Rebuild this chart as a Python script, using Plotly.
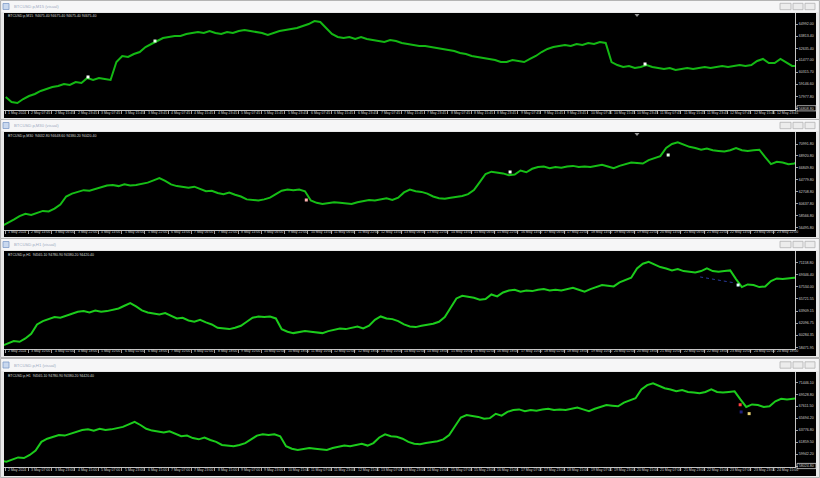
import pandas as pd
import plotly.graph_objects as go

W, H = 820, 478

# ---------------- data ----------------
# M15 chart (top window): closes sampled every 2 hours
m15_start = "2024-05-02 00:00"
m15_close = [
    57900, 57420, 57320, 57710, 58000, 58200, 58490, 58680, 58880, 58970,
    59170, 59070, 59360, 59260, 59750, 59560, 59750, 59650, 59560, 61300,
    61890, 61790, 62080, 62270, 62760, 63050, 63340, 63630, 63730, 63830,
    63830, 64020, 64120, 64220, 64120, 64310, 64120, 64020, 64220, 64120,
    64310, 64410, 64310, 64220, 64120, 63920, 64120, 64310, 64410, 64510,
    64600, 64800, 64990, 65280, 65190, 64600, 64020, 63730, 63630, 63730,
    63540, 63730, 63540, 63440, 63340, 63250, 63440, 63340, 63150, 63050,
    62950, 62860, 62860, 62760, 62660, 62570, 62470, 62370, 62180, 62080,
    61890, 61790, 61690, 61600, 61500, 61300, 61300, 61500, 61400, 61300,
    61600, 61890, 62270, 62570, 62760, 62860, 62950, 62860, 63050, 62950,
    63150, 63050, 63250, 63150, 61300, 61010, 60820, 60920, 60720, 60820,
    61010, 60820, 60720, 60620, 60720, 60530, 60620, 60720, 60620, 60720,
    60820, 60720, 60820, 60920, 60820, 60920, 61010, 60920, 61010, 61400,
    61600, 61210, 61210, 61600, 61300, 60920, 60920,
]

# M30 / H1 windows: closes sampled every 4 hours
h_start = "2024-05-01 20:00"
h_close = [
    56800, 57300, 57900, 58500, 58900, 58700, 59100, 59400, 59300, 59800,
    60500, 61900, 62400, 62700, 63000, 62900, 63200, 63600, 63800, 63900,
    63700, 64000, 63800, 63900, 64100, 64300, 64700, 65100, 64600, 64000,
    63700, 63500, 63400, 63600, 63200, 62800, 62900, 62500, 62300, 62600,
    62200, 61900, 61400, 61300, 61200, 61400, 61700, 62300, 62900, 63100,
    63000, 63100, 62800, 61200, 60800, 60600, 60700, 60900, 60800, 60700,
    60600, 60900, 61100, 61300, 61200, 61400, 61600, 61300, 61700, 62600,
    63100, 62800, 62700, 62400, 61900, 61600, 61500, 61700, 61800, 62000,
    62300, 63000, 64400, 65800, 66200, 66100, 65900, 65600, 65700, 66400,
    66100, 66700, 67000, 67100, 66800, 67000, 66900, 67100, 67200, 67000,
    67100, 67000, 67200, 67400, 67100, 66800, 67200, 67500, 67800, 67700,
    67600, 68200, 68500, 68900, 70300, 71000, 71300, 70900, 70500, 70300,
    70000, 70200, 69900, 69800, 69700, 69900, 70300, 69900, 69800, 69900,
    70000, 68700, 67500, 67900, 67800, 67500, 67600, 68400, 68800, 68700,
    68800, 68900, 68800, 68900,
]

p1_xlabels = ["1 May 2024", "2 May 07:45", "2 May 15:45", "2 May 23:45", "3 May 07:45", "3 May 15:45",
              "3 May 23:45", "4 May 07:45", "4 May 15:45", "4 May 23:45", "5 May 07:45", "5 May 15:45",
              "5 May 23:45", "6 May 07:45", "6 May 15:45", "6 May 23:45", "7 May 07:45", "7 May 15:45",
              "7 May 23:45", "8 May 07:45", "8 May 15:45", "8 May 23:45", "9 May 07:45", "9 May 15:45",
              "9 May 23:45", "10 May 07:45", "10 May 15:45", "10 May 23:45", "11 May 07:45", "11 May 15:45",
              "11 May 23:45", "12 May 07:45", "12 May 15:45", "12 May 23:45", "13 May 07:45"]
p2_xlabels = ["1 May 2024", "2 May 14:00", "3 May 06:00", "3 May 22:00", "4 May 14:00", "5 May 06:00",
              "5 May 22:00", "6 May 14:00", "7 May 06:00", "7 May 22:00", "8 May 14:00", "9 May 06:00",
              "9 May 22:00", "10 May 14:00", "11 May 06:00", "11 May 22:00", "12 May 14:00", "13 May 06:00",
              "13 May 22:00", "14 May 14:00", "15 May 06:00", "15 May 22:00", "16 May 14:00", "17 May 06:00",
              "17 May 22:00", "18 May 14:00", "19 May 06:00", "19 May 22:00", "20 May 14:00", "21 May 06:00",
              "21 May 22:00", "22 May 14:00", "23 May 06:00", "23 May 22:00", "24 May 14:00"]
p3_xlabels = ["2 May 2024", "3 May 10:00", "4 May 02:00", "4 May 18:00", "5 May 10:00", "6 May 02:00",
              "6 May 18:00", "7 May 10:00", "8 May 02:00", "8 May 18:00", "9 May 10:00", "10 May 02:00",
              "10 May 18:00", "11 May 10:00", "12 May 02:00", "12 May 18:00", "13 May 10:00", "14 May 02:00",
              "14 May 18:00", "15 May 10:00", "16 May 02:00", "16 May 18:00", "17 May 10:00", "18 May 02:00",
              "18 May 18:00", "19 May 10:00", "20 May 02:00", "20 May 18:00", "21 May 10:00", "22 May 02:00",
              "22 May 18:00", "23 May 10:00", "24 May 02:00", "24 May 18:00", "25 May 10:00"]
p4_xlabels = ["2 May 2024", "3 May 07:00", "3 May 23:00", "4 May 15:00", "5 May 07:00", "5 May 23:00",
              "6 May 15:00", "7 May 07:00", "7 May 23:00", "8 May 15:00", "9 May 07:00", "9 May 23:00",
              "10 May 15:00", "11 May 07:00", "11 May 23:00", "12 May 15:00", "13 May 07:00", "13 May 23:00",
              "14 May 15:00", "15 May 07:00", "15 May 23:00", "16 May 15:00", "17 May 07:00", "17 May 23:00",
              "18 May 15:00", "19 May 07:00", "19 May 23:00", "20 May 15:00", "21 May 07:00", "21 May 23:00",
              "22 May 15:00", "23 May 07:00", "23 May 23:00", "24 May 15:00", "25 May 07:00"]
first_label_time = ["2024-05-01 23:45", "2024-05-01 22:00", "2024-05-02 18:00", "2024-05-02 15:00"]
label_step_hours = [8, 16, 16, 16]

p1_yticks = [64992.00, 63813.40, 62635.40, 61477.00, 60315.70, 59146.60, 57977.80, 56808.80]
p2_yticks = [70991.80, 68920.80, 66849.80, 64779.80, 62708.80, 60637.80, 58566.80, 56495.80]
p3_yticks = [71158.80, 69346.40, 67534.00, 65721.55, 63909.15, 62096.75, 60284.35, 58471.95]
p4_yticks = [71446.10, 69528.80, 67611.50, 65694.20, 63776.80, 61859.50, 59942.20, 58024.80]

window_titles = ["BTCUSD.p,M15 (visual)", "BTCUSD.p,M30 (visual)", "BTCUSD.p,H1 (visual)", "BTCUSD.p,H1 (visual)"]
info_lines = ["BTCUSD.p,M15  94675.40 94675.40 94675.40 94675.40",
              "BTCUSD.p,M30  94632.80 94648.60 94380.20 94420.40",
              "BTCUSD.p,H1  94565.10 94780.90 94380.20 94420.40",
              "BTCUSD.p,H1  94565.10 94780.90 94380.20 94420.40"]

# trade markers shown by the visual tester
p1_mark_t = ["2024-05-03 04:15", "2024-05-04 03:15", "2024-05-11 03:30"]
p1_mark_y = [59850, 63340, 61110]
p2_mark_t = ["2024-05-10 12:54", "2024-05-16 08:50", "2024-05-20 21:24"]
p2_mark_y = [61300, 66150, 69090]
p3_mark_t = ["2024-05-23 17:25"]
p3_mark_y = [67820]
p3_trade_t = ["2024-05-22 15:20", "2024-05-23 15:20"]
p3_trade_y = [69020, 68120]
p4_mark_t = ["2024-05-23 15:50", "2024-05-23 16:30", "2024-05-23 22:00"]
p4_mark_y = [67845, 66690, 66420]

# ---------------- layout geometry (pixels) ----------------
geo = [
    dict(title=(1, 12), black=(13, 118), sep=110, lab=112.8, ylab=(24, 108.3), box=True, shift=True),
    dict(title=(120, 131), black=(132, 237), sep=229.5, lab=232.0, ylab=(144, 227.7), box=False, shift=True),
    dict(title=(239, 250), black=(251, 356), sep=348.5, lab=351.0, ylab=(262.7, 347.3), box=False, shift=False),
    dict(title=(359, 371), black=(372, 476), sep=467, lab=470.2, ylab=(382.3, 466), box=True, shift=False),
]
PX_PER_LABEL = 23.3
PLOT_L, PLOT_R, LAB0 = 4, 795, 5
LINE_COLORS = ["#14b814", "#16be16", "#1ccc1c", "#1ccc1c"]
TXT = "#cfcfcf"
FONT = "Liberation Sans, Arial, sans-serif"

m15_t = pd.date_range(m15_start, periods=len(m15_close), freq="2h")
h_t = pd.date_range(h_start, periods=len(h_close), freq="4h")

series = [(m15_t, m15_close), (h_t, h_close), (h_t, h_close), (h_t, h_close)]
xlabels = [p1_xlabels, p2_xlabels, p3_xlabels, p4_xlabels]
yticks = [p1_yticks, p2_yticks, p3_yticks, p4_yticks]
marks = [
    [(p1_mark_t, p1_mark_y, ["#ffffff", "#e8ffe8", "#ffffff"])],
    [(p2_mark_t, p2_mark_y, ["#ffb0b0", "#ffffff", "#e8ffe8"])],
    [(p3_mark_t, p3_mark_y, ["#e0ffff"])],
    [(p4_mark_t, p4_mark_y, ["#ff4040", "#20207a", "#e8d070"])],
]


def py(v):
    return 1 - v / H


def rect(x0, y0, x1, y1, fill, line=None, lw=1, layer="below"):
    return dict(type="rect", xref="paper", yref="paper", x0=x0 / W, x1=x1 / W, y0=py(y1), y1=py(y0),
                fillcolor=fill, line=dict(color=line if line else fill, width=lw if line else 0), layer=layer)


fig = go.Figure()
shapes, annos = [], []
lay = {}

for i, g in enumerate(geo):
    n = "" if i == 0 else str(i + 1)
    xa, ya = "xaxis" + n, "yaxis" + n
    xr, yr = "x" + n, "y" + n

    t0 = pd.Timestamp(first_label_time[i])
    hpp = label_step_hours[i] / PX_PER_LABEL
    xmin = t0 - pd.Timedelta(hours=(LAB0 - PLOT_L) * hpp)
    xmax = t0 + pd.Timedelta(hours=(PLOT_R - LAB0) * hpp)
    tick_pos = [t0 + pd.Timedelta(hours=k * label_step_hours[i]) for k in range(len(xlabels[i]))]

    yt = yticks[i]
    top_l, bot_l = g["ylab"]
    s = (yt[0] - yt[-1]) / (bot_l - top_l)
    ymax = yt[0] + (top_l - g["black"][0]) * s
    ymin = yt[-1] - (g["sep"] - bot_l) * s

    # window chrome
    t_top, t_bot = g["title"]
    b_top, b_bot = g["black"]
    shapes.append(rect(0.5, t_top - 0.5, 819.5, b_bot + 1.5, "#e9e9e9", "#b4b4b4", 1))
    shapes.append(rect(1.5, t_top, 818.5, t_bot, "#f6f6f7"))
    shapes.append(rect(4, b_top, 816, b_bot, "#000000"))
    tc = (t_top + t_bot) / 2
    shapes.append(rect(3, tc - 3, 9, tc + 3, "#c9d8ee", "#7f9cc8", 0.8))
    for bx0, bx1 in [(780, 791), (793, 803), (805, 815)]:
        shapes.append(rect(bx0, tc - 3.2, bx1, tc + 3.2, "#ececec", "#b3b3b3", 0.8))
    if g["shift"]:
        cx = 637 / W
        shapes.append(dict(type="path", xref="paper", yref="paper",
                           path=f"M {cx - 2.5 / W} {py(b_top + 1)} L {cx + 2.5 / W} {py(b_top + 1)} L {cx} {py(b_top + 4)} Z",
                           fillcolor="#9a9a9a", line=dict(width=0), layer="above"))
    if g["box"]:
        shapes.append(rect(797, bot_l - 2.6, 816, bot_l + 2.6, "rgba(0,0,0,0)", "#cfcfcf", 0.8, layer="above"))

    annos.append(dict(text=window_titles[i], x=12 / W, y=py(tc), xref="paper", yref="paper",
                      xanchor="left", yanchor="middle", showarrow=False,
                      font=dict(family=FONT, size=4.2, color="#9eabc2")))
    annos.append(dict(text=info_lines[i], x=6 / W, y=py(b_top + 3.5), xref="paper", yref="paper",
                      xanchor="left", yanchor="middle", showarrow=False,
                      font=dict(family=FONT, size=3.5, color="#d8d8d8")))
    for tp, lb in zip(tick_pos, xlabels[i]):
        annos.append(dict(text=lb, x=tp.strftime("%Y-%m-%d %H:%M:%S"), xref=xr, y=py(g["lab"]), yref="paper",
                          xanchor="left", yanchor="middle", xshift=1, showarrow=False,
                          font=dict(family=FONT, size=3.5, color=TXT)))

    lay[xa] = dict(domain=[PLOT_L / W, PLOT_R / W], anchor=yr, type="date",
                   range=[xmin.strftime("%Y-%m-%d %H:%M:%S"), xmax.strftime("%Y-%m-%d %H:%M:%S")],
                   showgrid=False, zeroline=False, showline=True, linecolor="#c4c4c4", linewidth=1,
                   ticks="outside", ticklen=3, tickcolor="#c4c4c4", tickwidth=0.8,
                   tickvals=[t.strftime("%Y-%m-%d %H:%M:%S") for t in tick_pos], showticklabels=False,
                   fixedrange=True)
    lay[ya] = dict(domain=[py(g["sep"]), py(b_top)], anchor=xr, side="right", range=[ymin, ymax],
                   showgrid=False, zeroline=False, showline=True, linecolor="#c4c4c4", linewidth=1,
                   ticks="outside", ticklen=2, tickcolor="#c4c4c4", tickwidth=0.8,
                   tickvals=yt, ticktext=[f"{v:.2f}" for v in yt],
                   tickfont=dict(family=FONT, size=3.6, color=TXT), fixedrange=True)

    tx, ty = series[i]
    fig.add_trace(go.Scatter(x=tx, y=ty, mode="lines", xaxis=xr, yaxis=yr,
                             line=dict(color=LINE_COLORS[i], width=2), hoverinfo="skip", showlegend=False))
    if i == 2:
        fig.add_trace(go.Scatter(x=p3_trade_t, y=p3_trade_y, mode="lines", xaxis=xr, yaxis=yr,
                                 line=dict(color="#2a3a9a", width=1, dash="dot"), hoverinfo="skip",
                                 showlegend=False))
    for mt, my, mc in marks[i]:
        fig.add_trace(go.Scatter(x=mt, y=my, mode="markers", xaxis=xr, yaxis=yr, hoverinfo="skip",
                                 marker=dict(symbol="square", size=3, color=mc), showlegend=False))

fig.update_layout(width=W, height=H, margin=dict(l=0, r=0, t=0, b=0),
                  paper_bgcolor="#ececec", plot_bgcolor="#000000", hovermode=False,
                  shapes=shapes, annotations=annos, showlegend=False, **lay)

fig.write_html("out.html", config={"displayModeBar": False, "staticPlot": True},
               post_script="document.body.style.margin='0';document.body.style.overflow='hidden';")
